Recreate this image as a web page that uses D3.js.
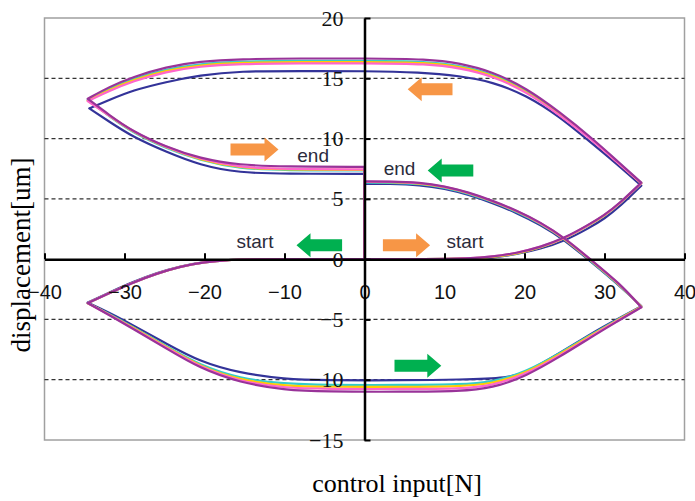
<!DOCTYPE html>
<html>
<head>
<meta charset="utf-8">
<script src="https://cdn.jsdelivr.net/npm/d3@7"></script>
<style>
  body { margin: 0; background: #fff; }
  svg { display: block; }
</style>
</head>
<body>
<svg id="chart" width="695" height="501"></svg>
<script>
// tick values
var xTicks = [-40, -30, -20, -10, 0, 10, 20, 30, 40];
var yTicks = [-15, -10, -5, 0, 5, 10, 15, 20];
var gridVals = [-10, -5, 5, 10, 15];

// one loop per run: right start -> upper loop -> back to 0, left start -> lower loop -> end
var navyPts = [[0,0],[8,0],[13,0],[16,0.1],[19,0.4],[22,0.85],[25,1.5],[28,2.55],[30,3.35],[32,4.4],[34.6,6.1],
  [31,8.2],[27.5,10.1],[24.4,11.8],[20.2,13.6],[16,14.7],[11.9,15.2],[7,15.5],[0,15.6],[-8,15.6],[-15.6,15.6],[-20.6,15.25],[-24.8,14.7],[-29,14.0],[-31.9,13.2],[-34.4,12.5],
  [-31.9,11.4],[-29,10.15],[-24.8,8.9],[-20.6,7.8],[-15.6,7.15],[-10,7.08],[0,7.07],
  [0,0],[-8,0],[-14,0],[-17,-0.05],[-20,-0.22],[-23,-0.57],[-26,-1.15],[-29,-1.9],[-32,-2.8],[-34.6,-3.6],
  [-32,-4.4],[-29,-5.45],[-24.8,-7.0],[-20.6,-8.5],[-15.6,-9.45],[-10,-9.95],[-5,-10.05],[5,-10.05],[11.9,-10.0],[18.1,-9.85],[20.2,-9.4],[24.4,-7.8],[28.5,-6.1],[31.5,-5.0],[34.6,-3.9],
  [31.9,-2.2],[28.1,-0.1],[25,1.6],[22,2.85],[19,3.85],[16,4.65],[13,5.35],[10,5.85],[7,6.15],[3,6.25],[0,6.25]];

var cyanPts = [[0,0],[8,0],[13,0.05],[16,0.15],[19,0.45],[22,0.95],[25,1.7],[28,2.8],[30,3.6],[32,4.65],[34.6,6.3],
  [31.5,8.15],[28.5,9.95],[24.4,12.1],[20.2,14.05],[16,15.4],[11.9,16.05],[8,16.4],[0,16.45],[-8,16.45],[-15.6,16.4],[-20.6,16.2],[-24.8,15.75],[-29,14.95],[-31.9,14.15],[-34.6,13.2],
  [-31.9,11.85],[-29,10.5],[-24.8,9.2],[-20.6,8.2],[-15.6,7.5],[-10,7.37],[0,7.35],
  [0,0],[-8,0],[-14,0],[-17,-0.05],[-20,-0.25],[-23,-0.6],[-26,-1.2],[-29,-1.95],[-32,-2.85],[-34.6,-3.65],
  [-32,-4.5],[-29,-5.6],[-24.8,-7.2],[-20.6,-8.8],[-15.6,-9.9],[-10,-10.35],[-5,-10.44],[5,-10.44],[11.9,-10.4],[16,-10.2],[20.2,-9.35],[24.4,-7.8],[28.5,-6.2],[31.5,-5.05],[34.6,-3.95],
  [31.9,-2.15],[28.1,-0.05],[25,1.7],[22,2.95],[19,3.95],[16,4.75],[13,5.45],[10,5.95],[7,6.25],[3,6.35],[0,6.35]];

var yellowPts = [[0,0],[8,0],[13,0.05],[16,0.15],[19,0.45],[22,0.95],[25,1.7],[28,2.8],[30,3.6],[32,4.65],[34.6,6.3],
  [31.5,8.1],[28.5,9.9],[24.4,12.0],[20.2,13.95],[16,15.3],[11.9,15.95],[8,16.3],[0,16.35],[-8,16.35],[-15.6,16.3],[-20.6,16.1],[-24.8,15.65],[-29,14.85],[-31.9,14.05],[-34.6,13.15],
  [-31.9,11.9],[-29,10.55],[-24.8,9.25],[-20.6,8.25],[-15.6,7.55],[-10,7.42],[0,7.4],
  [0,0],[-8,0],[-14,0],[-17,-0.05],[-20,-0.25],[-23,-0.6],[-26,-1.2],[-29,-1.95],[-32,-2.85],[-34.6,-3.65],
  [-32,-4.55],[-29,-5.65],[-24.8,-7.27],[-20.6,-8.9],[-15.6,-10.05],[-10,-10.5],[-5,-10.6],[5,-10.6],[11.9,-10.55],[16,-10.35],[20.2,-9.45],[24.4,-7.9],[28.5,-6.25],[31.5,-5.1],[34.6,-3.95],
  [31.9,-2.1],[28.1,0],[25,1.72],[22,3.0],[19,4.0],[16,4.8],[13,5.5],[10,6.0],[7,6.3],[3,6.4],[0,6.4]];

var pinkPts = [[0,0],[8,0],[13,0.05],[16,0.2],[19,0.5],[22,1.0],[25,1.72],[28,2.82],[30,3.62],[32,4.68],[34.6,6.3],
  [31.5,8.08],[28.5,9.85],[24.4,11.95],[20.2,13.9],[16,15.2],[11.9,15.85],[8,16.2],[0,16.25],[-8,16.25],[-15.6,16.2],[-20.6,16.0],[-24.8,15.55],[-29,14.75],[-31.9,13.95],[-34.6,13.1],
  [-31.9,11.9],[-29,10.58],[-24.8,9.28],[-20.6,8.3],[-15.6,7.6],[-10,7.47],[0,7.45],
  [0,0],[-8,0],[-14,0],[-17,-0.05],[-20,-0.25],[-23,-0.6],[-26,-1.2],[-29,-1.95],[-32,-2.85],[-34.6,-3.65],
  [-32,-4.58],[-29,-5.7],[-24.8,-7.33],[-20.6,-8.97],[-15.6,-10.15],[-10,-10.68],[-5,-10.77],[5,-10.77],[11.9,-10.75],[16,-10.5],[20.2,-9.55],[24.4,-8.0],[28.5,-6.32],[31.5,-5.15],[34.6,-3.98],
  [31.9,-2.05],[28.1,0.03],[25,1.75],[22,3.02],[19,4.02],[16,4.82],[13,5.52],[10,6.02],[7,6.33],[3,6.42],[0,6.42]];

var purplePts = [[0,0],[8,0],[13,0.05],[16,0.2],[19,0.5],[22,1.0],[25,1.75],[28,2.85],[30,3.65],[32,4.7],[34.6,6.35],
  [31.5,8.2],[28.5,10.0],[24.4,12.2],[20.2,14.2],[16,15.55],[11.9,16.25],[8,16.6],[0,16.65],[-8,16.65],[-15.6,16.6],[-20.6,16.4],[-24.8,15.95],[-29,15.1],[-31.9,14.3],[-34.6,13.3],
  [-31.9,11.95],[-29,10.6],[-24.8,9.3],[-20.6,8.35],[-15.6,7.8],[-10,7.67],[0,7.65],
  [0,0],[-8,0],[-14,0],[-17,-0.05],[-20,-0.25],[-23,-0.6],[-26,-1.2],[-29,-1.95],[-32,-2.85],[-34.6,-3.65],
  [-32,-4.6],[-29,-5.75],[-24.8,-7.4],[-20.6,-9.05],[-15.6,-10.25],[-10,-10.85],[-5,-11.0],[5,-11.0],[11.9,-10.97],[16,-10.7],[20.2,-9.7],[24.4,-8.1],[28.5,-6.4],[31.5,-5.2],[34.6,-4.0],
  [31.9,-2.0],[28.1,0.05],[25,1.78],[22,3.05],[19,4.05],[16,4.85],[13,5.55],[10,6.05],[7,6.37],[3,6.45],[0,6.45]];

var series = [
  {pts: navyPts, color: "#333399"},
  {pts: cyanPts, color: "#33CCCC"},
  {pts: yellowPts, color: "#FFCC00"},
  {pts: pinkPts, color: "#FF66CC"},
  {pts: purplePts, color: "#993399"}
];

// direction arrows (data coords) and their captions
var arrows = [
  {x0: 2.3, x1: 8.2, y: 1.15, dir: 1, color: "#F79646"},
  {x0: -8.5, x1: -2.8, y: 1.15, dir: -1, color: "#00B050"},
  {x0: 5.4, x1: 11.0, y: 14.1, dir: -1, color: "#F79646"},
  {x0: -16.75, x1: -10.75, y: 9.1, dir: 1, color: "#F79646"},
  {x0: 7.9, x1: 13.6, y: 7.35, dir: -1, color: "#00B050"},
  {x0: 3.75, x1: 9.6, y: -8.85, dir: 1, color: "#00B050"}
];
var captions = [
  {x: 10.25, y: 0.94, text: "start"},
  {x: -16, y: 0.94, text: "start"},
  {x: -8.4, y: 8.05, text: "end"},
  {x: 2.4, y: 6.98, text: "end"}
];

var svg = d3.select("#chart");

var x = d3.scaleLinear().domain([-40, 40]).range([44.5, 684.5]);
var y = d3.scaleLinear().domain([-15, 20]).range([440, 18]);

// plot frame
svg.append("rect")
  .attr("x", x(-40)).attr("y", y(20))
  .attr("width", x(40) - x(-40)).attr("height", y(-15) - y(20))
  .attr("fill", "#fff").attr("stroke", "#a0a0a0").attr("stroke-width", 1.5);

svg.append("g").selectAll("line").data(gridVals).join("line")
  .attr("x1", x(-40)).attr("x2", x(40))
  .attr("y1", d => y(d)).attr("y2", d => y(d))
  .attr("stroke", "#333").attr("stroke-width", 1.2)
  .attr("stroke-dasharray", "4,3");

// split a point list into runs that are monotone in x
function runs(pts) {
  var out = [], cur = [pts[0]], dir = null;
  for (var i = 1; i < pts.length; i++) {
    var s = Math.sign(pts[i][0] - pts[i-1][0]);
    if (cur.length > 1 && s !== dir) { out.push(cur); cur = [pts[i-1]]; }
    dir = s;
    cur.push(pts[i]);
  }
  out.push(cur);
  return out;
}

var line = d3.line()
  .x(d => x(d[0]))
  .y(d => y(d[1]))
  .curve(d3.curveBasis);

series.forEach(function(s) {
  var p = runs(s.pts).map(r => line(r)).join("");
  svg.append("path")
    .attr("d", p)
    .attr("fill", "none")
    .attr("stroke", s.color)
    .attr("stroke-width", 2.2)
    .attr("stroke-linecap", "round")
    .attr("stroke-linejoin", "round");
});

// axes crossing at 0
var xAxis = d3.axisBottom(x)
  .tickValues(xTicks)
  .tickSize(-6)
  .tickSizeOuter(0)
  .tickPadding(26)
  .tickFormat(d => d < 0 ? "\u2212" + Math.abs(d) : d);

var gx = svg.append("g")
  .attr("transform", `translate(0,${y(0)})`)
  .call(xAxis);
gx.select(".domain").attr("stroke", "#000").attr("stroke-width", 2.5);
gx.selectAll(".tick line").attr("stroke", "#000").attr("stroke-width", 2);
gx.selectAll("text")
  .attr("fill", "#111")
  .style("font-family", "'Liberation Sans', Arial, sans-serif")
  .style("font-size", "20px");

var yAxis = d3.axisLeft(y)
  .tickValues(yTicks)
  .tickSize(-6)
  .tickSizeOuter(0)
  .tickPadding(21);

var gy = svg.append("g")
  .attr("transform", `translate(${x(0)},0)`)
  .call(yAxis);
gy.select(".domain").attr("stroke", "#000").attr("stroke-width", 2.5);
gy.selectAll(".tick line").attr("stroke", "#000").attr("stroke-width", 2);
gy.selectAll("text")
  .attr("fill", "#111")
  .style("font-family", "'Liberation Serif', 'Times New Roman', serif")
  .style("font-size", "22px");

// block arrows
var shaft = 12, head = 24, headLen = 14;
svg.append("g").selectAll("path").data(arrows).join("path")
  .attr("d", function(a) {
    var cy = y(a.y), xa = x(a.x0), xb = x(a.x1);
    var tail = a.dir > 0 ? xa : xb, tip = a.dir > 0 ? xb : xa;
    var neck = tip - a.dir * headLen;
    return "M" + tail + "," + (cy - shaft / 2) +
      "L" + neck + "," + (cy - shaft / 2) +
      "L" + neck + "," + (cy - head / 2) +
      "L" + tip + "," + cy +
      "L" + neck + "," + (cy + head / 2) +
      "L" + neck + "," + (cy + shaft / 2) +
      "L" + tail + "," + (cy + shaft / 2) + "Z";
  })
  .attr("fill", a => a.color);

svg.append("g").selectAll("text").data(captions).join("text")
  .attr("x", d => x(d.x))
  .attr("y", d => y(d.y))
  .attr("fill", "#2b2b3b")
  .style("font-family", "'Liberation Sans', Arial, sans-serif")
  .style("font-size", "19px")
  .text(d => d.text);

// axis titles
svg.append("text")
  .attr("transform", "translate(30,255) rotate(-90)")
  .attr("text-anchor", "middle")
  .style("font-family", "'Liberation Serif', 'Times New Roman', serif")
  .style("font-size", "27px")
  .text("displacement[um]");

svg.append("text")
  .attr("x", 397)
  .attr("y", 492)
  .attr("text-anchor", "middle")
  .style("font-family", "'Liberation Serif', 'Times New Roman', serif")
  .style("font-size", "26px")
  .text("control input[N]");
</script>
</body>
</html>
